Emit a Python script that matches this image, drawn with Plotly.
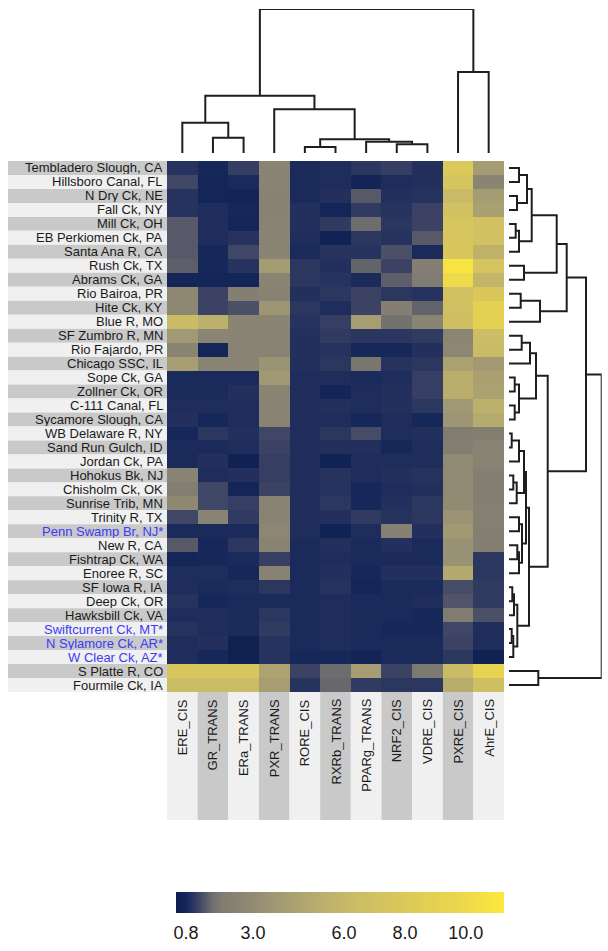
import plotly.graph_objects as go

# ---------------- data ----------------
ROW_LABELS = [
    "Tembladero Slough, CA", "Hillsboro Canal, FL", "N Dry Ck, NE", "Fall Ck, NY",
    "Mill Ck, OH", "EB Perkiomen Ck, PA", "Santa Ana R, CA", "Rush Ck, TX",
    "Abrams Ck, GA", "Rio Bairoa, PR", "Hite Ck, KY", "Blue R, MO",
    "SF Zumbro R, MN", "Rio Fajardo, PR", "Chicago SSC, IL", "Sope Ck, GA",
    "Zollner Ck, OR", "C-111 Canal, FL", "Sycamore Slough, CA", "WB Delaware R, NY",
    "Sand Run Gulch, ID", "Jordan Ck, PA", "Hohokus Bk, NJ", "Chisholm Ck, OK",
    "Sunrise Trib, MN", "Trinity R, TX", "Penn Swamp Br, NJ*", "New R, CA",
    "Fishtrap Ck, WA", "Enoree R, SC", "SF Iowa R, IA", "Deep Ck, OR",
    "Hawksbill Ck, VA", "Swiftcurrent Ck, MT*", "N Sylamore Ck, AR*", "W Clear Ck, AZ*",
    "S Platte R, CO", "Fourmile Ck, IA",
]
COL_LABELS = ["ERE_CIS", "GR_TRANS", "ERa_TRANS", "PXR_TRANS", "RORE_CIS", "RXRb_TRANS",
              "PPARg_TRANS", "NRF2_CIS", "VDRE_CIS", "PXRE_CIS", "AhrE_CIS"]

ERE_CIS = [1.0, 1.25, 1.0, 1.0, 1.45, 1.45, 1.45, 1.5, 0.75, 2.8, 2.8, 6.3, 3.8, 2.6, 4.1, 0.85, 0.85, 0.9, 0.95,
           0.8, 0.85, 0.85, 2.5, 2.1, 2.8, 1.25, 0.85, 1.45, 0.75, 0.9, 0.9, 1.0, 0.9, 1.0, 0.9, 0.9, 7.7, 6.4]
GR_TRANS = [0.8, 0.75, 0.75, 0.9, 0.9, 0.9, 0.8, 0.8, 0.75, 1.2, 1.2, 5.3, 2.6, 0.75, 2.5, 0.85, 0.85, 0.9, 0.8,
            1.05, 0.85, 0.95, 0.9, 1.25, 1.25, 2.5, 0.85, 0.8, 0.8, 0.9, 0.85, 0.8, 0.9, 0.9, 0.95, 0.8, 7.7, 6.4]
ERA_TRANS = [1.15, 0.85, 0.7, 0.8, 0.75, 1.0, 1.25, 1.0, 0.75, 2.2, 1.35, 2.6, 2.5, 2.5, 2.5, 0.85, 0.95, 0.9, 0.9,
             0.95, 0.9, 0.6, 0.95, 0.75, 1.15, 1.1, 0.85, 1.05, 0.85, 0.8, 0.9, 0.85, 0.85, 0.85, 0.55, 0.55, 7.7, 6.4]
PXR_TRANS = [2.6, 2.5, 2.4, 2.4, 2.5, 2.5, 2.6, 4.0, 2.6, 2.4, 3.6, 2.6, 2.5, 2.5, 3.5, 3.8, 2.6, 2.5, 2.5,
             1.25, 1.2, 1.15, 1.15, 1.2, 2.5, 2.5, 2.7, 2.5, 1.15, 2.4, 1.05, 0.85, 1.05, 1.1, 1.0, 1.0, 4.5, 4.1]
RORE_CIS = [0.85, 0.85, 0.85, 0.95, 0.95, 0.9, 0.85, 1.05, 1.05, 0.95, 1.05, 1.0, 0.95, 0.95, 0.95, 0.9, 0.9, 0.9, 0.9,
            0.9, 0.9, 0.9, 0.9, 0.9, 0.9, 0.9, 0.9, 0.85, 0.85, 0.85, 0.85, 0.85, 0.85, 0.85, 0.85, 0.8, 1.2, 1.0]
RXRB_TRANS = [0.9, 0.9, 0.95, 0.75, 1.1, 0.65, 1.0, 0.95, 1.0, 1.05, 0.9, 1.15, 1.1, 1.0, 1.05, 0.9, 0.75, 0.95, 0.9,
              1.05, 0.95, 0.65, 1.0, 1.0, 1.05, 0.95, 0.65, 0.95, 0.9, 0.95, 1.0, 0.9, 0.9, 0.9, 0.9, 0.8, 1.65, 1.6]
PPARG_TRANS = [1.05, 0.7, 1.45, 1.1, 1.65, 1.05, 1.0, 1.55, 0.85, 1.2, 1.2, 4.1, 1.05, 0.8, 1.85, 0.85, 0.9, 0.9, 0.8,
               1.3, 0.95, 0.9, 0.9, 0.8, 0.8, 1.1, 0.9, 0.85, 0.85, 0.8, 0.75, 0.85, 0.85, 0.85, 0.85, 0.7, 4.1, 1.1]
NRF2_CIS = [1.15, 0.9, 0.95, 1.0, 1.05, 1.0, 1.35, 1.2, 1.5, 1.05, 2.2, 1.75, 1.05, 0.8, 1.0, 0.9, 0.95, 0.95, 0.9,
            0.9, 0.8, 0.9, 0.95, 0.9, 0.95, 1.0, 2.3, 0.95, 0.85, 0.95, 0.85, 0.85, 0.85, 0.8, 0.85, 0.85, 1.2, 1.05]
VDRE_CIS = [0.95, 0.95, 1.0, 1.2, 1.2, 1.45, 0.85, 2.2, 2.0, 1.0, 1.55, 2.6, 1.1, 0.95, 1.05, 1.15, 1.15, 1.05, 0.8,
            0.95, 0.9, 0.9, 1.0, 0.95, 1.05, 1.05, 0.95, 0.85, 0.85, 0.95, 0.85, 0.9, 0.8, 0.8, 0.85, 0.85, 1.9, 1.05]
PXRE_CIS = [8.0, 7.5, 6.2, 7.0, 7.6, 7.6, 7.8, 10.8, 10.0, 6.9, 6.9, 6.8, 2.6, 2.7, 4.4, 5.2, 5.2, 3.8, 3.6,
            2.0, 2.1, 2.9, 3.0, 2.9, 3.0, 3.5, 3.8, 3.4, 3.4, 4.9, 1.3, 1.4, 2.0, 1.25, 1.2, 1.05, 6.3, 5.1]
AHRE_CIS = [4.0, 2.6, 4.0, 4.3, 7.0, 7.0, 5.5, 7.3, 5.9, 7.8, 9.0, 9.0, 6.6, 6.3, 3.9, 4.3, 4.4, 5.3, 5.0,
            2.1, 2.5, 2.5, 2.2, 2.2, 2.2, 2.3, 2.2, 2.2, 1.05, 1.05, 1.1, 1.1, 1.35, 0.9, 0.9, 0.6, 9.3, 6.8]

COLUMNS = [ERE_CIS, GR_TRANS, ERA_TRANS, PXR_TRANS, RORE_CIS, RXRB_TRANS,
           PPARG_TRANS, NRF2_CIS, VDRE_CIS, PXRE_CIS, AHRE_CIS]

# dendrograms (scipy-style: index < n is a leaf, n + k is merge k)
COL_MERGE_LEFT = [1, 0, 4, 7, 6, 13, 3, 12, 9, 18]
COL_MERGE_RIGHT = [2, 11, 5, 8, 14, 15, 16, 17, 10, 19]
COL_MERGE_HEIGHT = [15.3, 30.3, 6.0, 8.7, 11.3, 13.7, 43.7, 57.3, 81.0, 144.0]

ROW_MERGE_LEFT = [0, 2, 38, 4, 41, 40, 7, 43, 9, 46, 45, 12, 49, 15, 17, 51, 50, 19, 55, 22,
                  57, 56, 25, 27, 61, 60, 59, 30, 65, 33, 67, 66, 64, 54, 48, 36, 72]
ROW_MERGE_RIGHT = [1, 3, 39, 5, 6, 42, 8, 44, 10, 11, 47, 13, 14, 16, 18, 52, 53, 20, 21, 23,
                   24, 58, 26, 28, 29, 62, 63, 31, 32, 34, 35, 68, 69, 70, 71, 37, 73]
ROW_MERGE_HEIGHT = [10, 8, 18, 6.7, 10, 22.7, 15, 47.7, 11.7, 31, 57.7, 12.7, 21, 5.7, 5.7, 10, 27, 2.7, 10, 4.3,
                    7.7, 15, 10, 8.3, 10, 13, 17, 3.3, 5, 2.7, 4.3, 8.3, 20, 38.7, 77, 29.3, 92.7]

ZMIN, ZMAX = 0.47, 11.26
CB_TICKS = [0.8, 3.0, 6.0, 8.0, 10.0]

# ---------------- layout helpers ----------------
W, H = 608, 951
nr, nc = len(ROW_LABELS), len(COL_LABELS)
z = [[COLUMNS[j][i] for j in range(nc)] for i in range(nr)]

def fx(px):
    return px / W

def fy(px):
    return 1 - px / H

HM_X = [fx(167), fx(504)]
HM_Y = [fy(692), fy(161)]
CB_LEFT, CB_RIGHT, CB_TOP, CB_BOTTOM = 176, 504, 892, 913

def stops(pairs):
    return [[(v - ZMIN) / (ZMAX - ZMIN), c] for v, c in pairs]

COLORSCALE = stops([
    (0.47, "#0c1f4e"), (0.80, "#16275a"), (1.00, "#27335f"), (1.22, "#3d4465"),
    (1.44, "#565869"), (1.66, "#6f6e6d"), (1.98, "#807c71"), (2.63, "#8b8573"),
    (3.70, "#9f9774"), (5.33, "#bcb06c"), (6.40, "#cbbc66"), (8.00, "#dbc95a"),
    (9.86, "#ecd84b"), (11.26, "#fde83c"),
])

fig = go.Figure()

fig.add_trace(go.Heatmap(
    z=z, x=list(range(nc)), y=list(range(nr)),
    zmin=ZMIN, zmax=ZMAX, colorscale=COLORSCALE, xgap=0, ygap=0,
    hoverinfo="skip",
    colorbar=dict(
        orientation="h", x=fx((CB_LEFT + CB_RIGHT) / 2), xanchor="center",
        len=(CB_RIGHT - CB_LEFT) / W, lenmode="fraction",
        y=fy(CB_TOP), yanchor="top", thickness=CB_BOTTOM - CB_TOP, thicknessmode="pixels",
        xpad=0, ypad=0, outlinewidth=0,
        tickvals=CB_TICKS, ticktext=[f"{t:.1f}" for t in CB_TICKS],
        ticks="outside", ticklen=5, tickcolor="rgba(255,255,255,0)", tickwidth=1,
        tickfont=dict(size=18, color="#1a1a1a", family="Liberation Sans, Arial, sans-serif"),
    ),
))


def dendro_segments(n, left, right, height):
    pos = {i: float(i) for i in range(n)}
    hgt = {i: 0.0 for i in range(n)}
    segs = []
    for k, (a, b, h) in enumerate(zip(left, right, height)):
        node = n + k
        segs.append(([pos[a], pos[a], pos[b], pos[b]], [hgt[a], h, h, hgt[b]]))
        pos[node] = (pos[a] + pos[b]) / 2
        hgt[node] = h
    return segs

LINE = dict(color="#1e1e1e", width=2)

xs, ys = [], []
for p, h in dendro_segments(nc, COL_MERGE_LEFT, COL_MERGE_RIGHT, COL_MERGE_HEIGHT):
    xs += p + [None]
    ys += h + [None]
fig.add_trace(go.Scatter(x=xs, y=ys, mode="lines", line=LINE, xaxis="x2", yaxis="y2",
                         hoverinfo="skip", showlegend=False))

xs, ys = [], []
for p, h in dendro_segments(nr, ROW_MERGE_LEFT, ROW_MERGE_RIGHT, ROW_MERGE_HEIGHT):
    xs += h + [None]
    ys += p + [None]
fig.add_trace(go.Scatter(x=xs, y=ys, mode="lines", line=LINE, xaxis="x3", yaxis="y3",
                         hoverinfo="skip", showlegend=False))

# label strips
shapes = []
for i in range(nr):
    shapes.append(dict(type="rect", xref="paper", yref="y", x0=fx(8), x1=HM_X[0],
                       y0=i - 0.5, y1=i + 0.5, line=dict(width=0),
                       fillcolor="#c9c9c9" if i % 2 == 0 else "#f0f0f0", layer="below"))
for j in range(nc):
    shapes.append(dict(type="rect", xref="x", yref="paper", x0=j - 0.5, x1=j + 0.5,
                       y0=fy(820), y1=HM_Y[0], line=dict(width=0),
                       fillcolor="#f0f0f0" if j % 2 == 0 else "#c9c9c9", layer="below"))
# faint white tick marks inside the colour bar, placed by value
for t in CB_TICKS:
    xp = CB_LEFT + (t - ZMIN) / (ZMAX - ZMIN) * (CB_RIGHT - CB_LEFT)
    shapes.append(dict(type="line", xref="paper", yref="paper", x0=fx(xp), x1=fx(xp),
                       y0=fy(CB_BOTTOM), y1=fy(CB_TOP),
                       line=dict(color="rgba(255,255,255,0.55)", width=1), layer="above"))

FONT = "Liberation Sans, Arial, sans-serif"
annotations = []
for i, lab in enumerate(ROW_LABELS):
    annotations.append(dict(
        text=lab, xref="paper", yref="y", x=fx(164), y=i, xanchor="right", yanchor="middle",
        height=13, borderpad=0, valign="middle",
        showarrow=False, font=dict(size=13, family=FONT,
                                   color="#3b3bf5" if lab.endswith("*") else "#1a1a1a")))
for j, lab in enumerate(COL_LABELS):
    annotations.append(dict(
        text=lab, xref="x", yref="paper", x=j, y=fy(697), xanchor="center", yanchor="top",
        textangle=-90, showarrow=False, font=dict(size=13, family=FONT, color="#1a1a1a")))

hidden = dict(visible=False, showgrid=False, zeroline=False, fixedrange=True)
fig.update_layout(
    width=W, height=H, margin=dict(l=0, r=0, t=0, b=0),
    paper_bgcolor="white", plot_bgcolor="rgba(0,0,0,0)",
    showlegend=False, shapes=shapes, annotations=annotations,
    xaxis=dict(domain=HM_X, range=[-0.5, nc - 0.5], **hidden),
    yaxis=dict(domain=HM_Y, range=[nr - 0.5, -0.5], **hidden),
    xaxis2=dict(domain=HM_X, range=[-0.5, nc - 0.5], anchor="y2", **hidden),
    yaxis2=dict(domain=[fy(153), fy(9)], range=[0, max(COL_MERGE_HEIGHT)], anchor="x2", **hidden),
    xaxis3=dict(domain=[fx(509), fx(601.7)], range=[0, max(ROW_MERGE_HEIGHT)], anchor="y3", **hidden),
    yaxis3=dict(domain=HM_Y, range=[nr - 0.5, -0.5], anchor="x3", **hidden),
)

fig.write_html("out.html", config={"displayModeBar": False},
               post_script="document.body.style.margin='0px';document.body.style.overflow='hidden';")
